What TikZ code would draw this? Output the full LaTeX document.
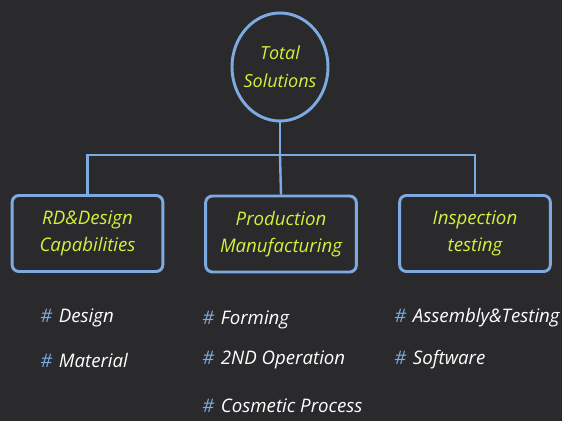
\documentclass[tikz,border=0pt]{standalone}
\usepackage{fontspec}
\setmainfont{Open Sans}
\usetikzlibrary{shapes.geometric, positioning}

\definecolor{board}{RGB}{42,42,45}
\definecolor{chalkblue}{RGB}{125,170,225}
\definecolor{chalkyellow}{RGB}{212,240,60}

\tikzset{
	ring/.style={ellipse, draw=chalkblue, line width=2.2pt, minimum width=72pt, minimum height=81pt},
	ringtext/.style={text=chalkyellow, align=center, font=\itshape\fontsize{13.5}{21}\selectfont},
	topic/.style={draw=chalkblue, line width=2.2pt, rounded corners=5pt, minimum width=113pt, minimum height=57pt,
		text=chalkyellow, align=center, font=\itshape\fontsize{14}{20}\selectfont},
	item/.style={anchor=west, text=white, inner sep=0pt, font=\itshape\fontsize{14}{16}\selectfont},
	link/.style={chalkblue, line width=1.8pt}
}
\newcommand{\hashmark}{\textcolor{chalkblue}{\#}\hspace{5pt}}

\begin{document}
\begin{tikzpicture}[x=0.75pt, y=-0.75pt]
	% board
	\fill[board] (0,0) rectangle (562,421);

	% root
	\node[ring] (root) at (280,67) {};
	\node[ringtext] (roottxt) at (root) {Total\\Solutions};

	% three branches
	\node[topic] (rd) at (87.5,233.5) {RD\&Design\\Capabilities};
	\node[topic] (prod) at (281,234) {Production\\Manufacturing};
	\node[topic] (insp) at (475,233.5) {Inspection\\testing};

	% connectors
	\coordinate (bar) at (280,155);
	\draw[link] (root.south) -- (bar);
	\draw[link] (rd.north) |- (bar) -| (insp.north);
	\draw[link] (bar) -- (prod.north);

	% lists
	\node[item] (design) at (40,318) {\hashmark Design};
	\node[item] (material) at (40,360) {\hashmark Material};
	\node[item] (forming) at (202,320) {\hashmark Forming};
	\node[item] (second) at (202,360) {\hashmark 2ND Operation};
	\node[item] (cosmetic) at (202,406) {\hashmark Cosmetic Process};
	\node[item] (assembly) at (394,318) {\hashmark Assembly\&Testing};
	\node[item] (software) at (394,360) {\hashmark Software};
\end{tikzpicture}
\end{document}
